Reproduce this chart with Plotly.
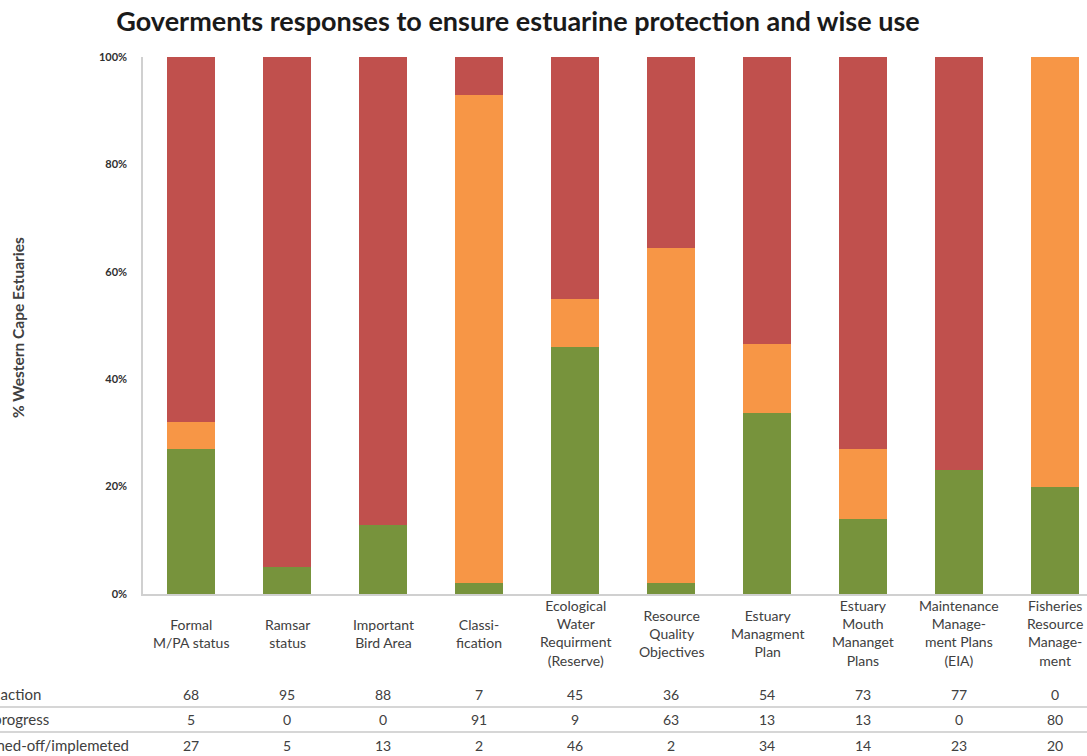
import plotly.graph_objects as go

# Response categories (x axis) and per-category counts for each status
categories = [
    "Formal<br>M/PA status",
    "Ramsar<br>status",
    "Important<br>Bird Area",
    "Classi-<br>fication",
    "Ecological<br>Water<br>Requirment<br>(Reserve)",
    "Resource<br>Quality<br>Objectives",
    "Estuary<br>Managment<br>Plan",
    "Estuary<br>Mouth<br>Mananget<br>Plans",
    "Maintenance<br>Manage-<br>ment Plans<br>(EIA)",
    "Fisheries<br>Resource<br>Manage-<br>ment",
]
no_action = [68, 95, 88, 7, 45, 36, 54, 73, 77, 0]
in_progress = [5, 0, 0, 91, 9, 63, 13, 13, 0, 80]
signed_off = [27, 5, 13, 2, 46, 2, 34, 14, 23, 20]

series_names = ["No action", "In progress", "Signed-off/implemeted"]
series_colors = ["#C0504D", "#F79646", "#77933C"]
y_ticks = [0, 20, 40, 60, 80, 100]

W, H = 1087, 756
PLOT_L, PLOT_T, PLOT_B = 143, 57, 594
FONT = "Lato"
TEXT = "#404040"
SMALL = 14


def py(v):
    """pixel row -> paper y"""
    return (PLOT_B - v) / (PLOT_B - PLOT_T)


def px(v):
    """pixel column -> paper x"""
    return (v - PLOT_L) / (W - PLOT_L)


idx = list(range(len(categories)))
fig = go.Figure()
# stacked bottom-to-top: signed-off, in progress, no action
for vals, name, col in [
    (signed_off, series_names[2], series_colors[2]),
    (in_progress, series_names[1], series_colors[1]),
    (no_action, series_names[0], series_colors[0]),
]:
    fig.add_trace(go.Bar(x=idx, y=vals, name=name, marker=dict(color=col, line=dict(width=0))))

annotations = []
# category labels beneath the axis
for i, cat in enumerate(categories):
    annotations.append(dict(
        x=i, xref="x", y=py(633), yref="paper", text=cat, showarrow=False,
        xanchor="center", yanchor="middle", align="center",
        font=dict(family=FONT, size=SMALL, color=TEXT),
    ))

# data table rows (row headers run past the left edge of the page)
rows = [(no_action, 694), (in_progress, 719), (signed_off, 745)]
for (vals, ypix), label in zip(rows, series_names):
    annotations.append(dict(
        x=px(-25), xref="paper", y=py(ypix), yref="paper", text=label, showarrow=False,
        xanchor="left", yanchor="middle",
        font=dict(family=FONT, size=15, color=TEXT),
    ))
    for i, v in enumerate(vals):
        annotations.append(dict(
            x=i, xref="x", y=py(ypix), yref="paper", text=str(v), showarrow=False,
            xanchor="center", yanchor="middle",
            font=dict(family=FONT, size=SMALL, color=TEXT),
        ))

# y axis title
annotations.append(dict(
    x=px(18), xref="paper", y=py(327), yref="paper", text="% Western Cape Estuaries",
    textangle=-90, showarrow=False, xanchor="center", yanchor="middle",
    font=dict(family=FONT, size=15.5, color=TEXT, weight="bold"),
))

shapes = [
    dict(type="line", xref="paper", yref="paper", x0=px(0), x1=px(W), y0=py(y), y1=py(y),
         line=dict(color="#C8C8C8", width=1.5))
    for y in (707, 732)
]

fig.update_layout(
    width=W, height=H,
    margin=dict(l=PLOT_L, r=0, t=PLOT_T, b=H - PLOT_B),
    barmode="stack", barnorm="percent", bargap=0.49,
    showlegend=False,
    paper_bgcolor="white", plot_bgcolor="white",
    title=dict(
        text="<b>Goverments responses to ensure estuarine protection and wise use</b>",
        x=518 / W, xanchor="center", xref="container",
        y=1 - 22 / H, yanchor="middle", yref="container",
        font=dict(family=FONT, size=27, color="#1a1a1a"),
    ),
    xaxis=dict(
        range=[-0.5, (W - PLOT_L) / 96 - 0.5], showticklabels=False, ticks="",
        showgrid=False, zeroline=False, showline=True, linecolor="#D0D0D0", linewidth=1.5,
        fixedrange=True,
    ),
    yaxis=dict(
        range=[0, 100], tickvals=y_ticks, ticktext=[f"{t}%" for t in y_ticks],
        ticks="outside", ticklen=12, tickcolor="rgba(0,0,0,0)",
        tickfont=dict(family=FONT, size=11, color="#303030", weight="bold"),
        showgrid=False, zeroline=False, showline=True, linecolor="#D0D0D0", linewidth=1.5,
    ),
    annotations=annotations,
    shapes=shapes,
)

fig.write_html("out.html")
